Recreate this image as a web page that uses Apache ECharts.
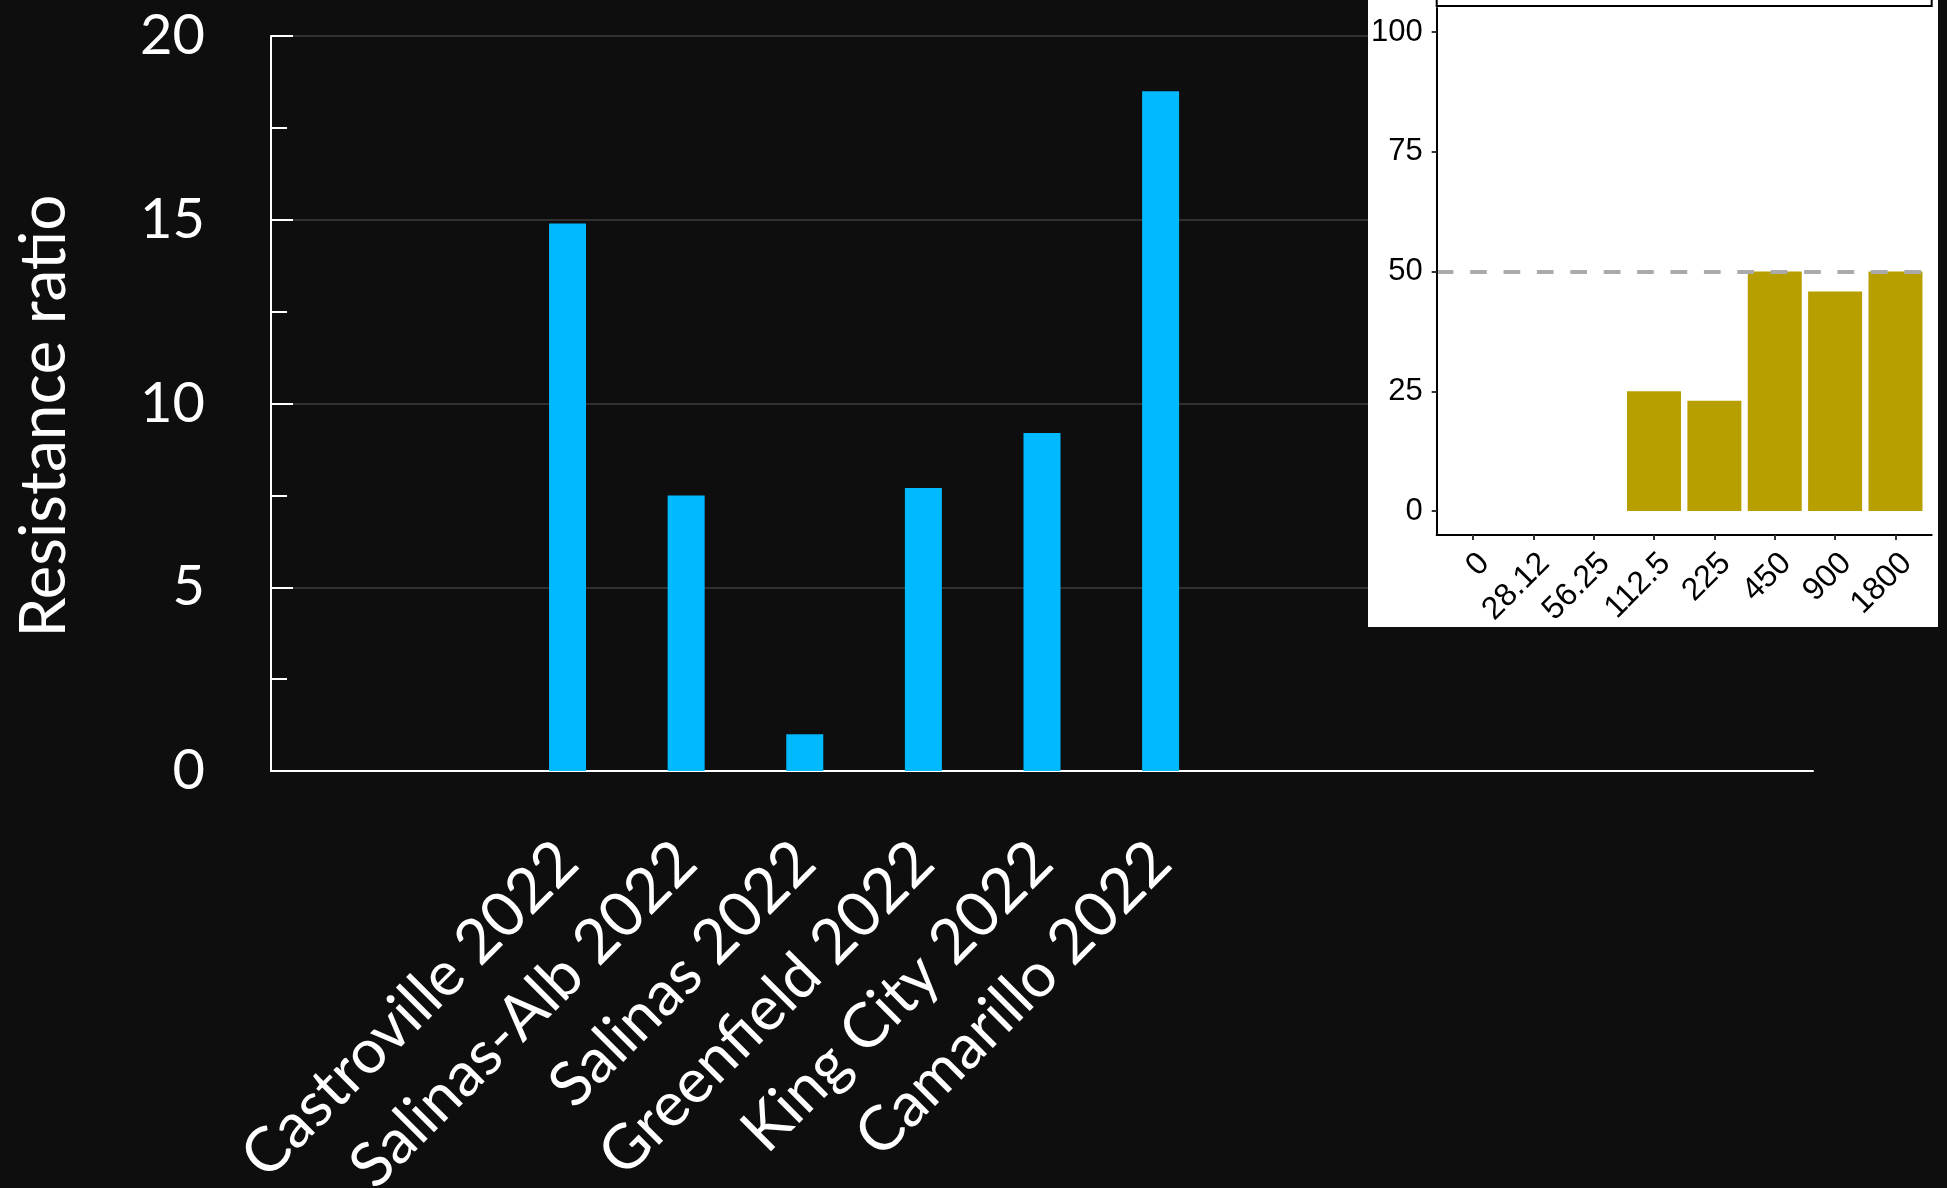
<!DOCTYPE html>
<html><head><meta charset="utf-8">
<script src="https://cdn.jsdelivr.net/npm/echarts@6/dist/echarts.min.js"></script>
<style>html,body{margin:0;padding:0;background:#0e0e0e;}#c{width:1947px;height:1188px;}</style>
</head><body><div id="c"></div>
<script>
// ---- main chart data ----
const sites = ['Castroville 2022', 'Salinas-Alb 2022', 'Salinas 2022', 'Greenfield 2022', 'King City 2022', 'Camarillo 2022'];
const ratios = [14.9, 7.5, 1.0, 7.7, 9.2, 18.5];
const emptyBefore = 2;
const emptyAfter = 5;
const yTicks = [0, 5, 10, 15, 20];
const yName = 'Resistance ratio';

// ---- inset chart data ----
const doses = ['0', '28.12', '56.25', '112.5', '225', '450', '900', '1800'];
const mortality = [0, 0, 0, 25, 23, 50, 45.8, 50];
const insetTicks = [0, 25, 50, 75, 100];
const threshold = 50;

// build padded category axis
const cats = [];
const vals = [];
for (let i = 0; i < emptyBefore; i++) { cats.push('_pre' + i); vals.push(null); }
sites.forEach((s, i) => { cats.push(s); vals.push(ratios[i]); });
for (let i = 0; i < emptyAfter; i++) { cats.push('_post' + i); vals.push(null); }

const doseIdx = doses.map((d, i) => i);
const insetData = mortality.map((m, i) => [i, m]);

const chart = echarts.init(document.getElementById('c'));
const mainFont = 'Lato';
const insetFont = '"Liberation Sans", Arial, sans-serif';

chart.setOption({
  backgroundColor: '#0e0e0e',
  animation: false,
  graphic: [
    { type: 'rect', z: 1, shape: { x: 1368, y: 0, width: 570, height: 627 }, style: { fill: '#ffffff' } },
    { type: 'rect', z: 10, shape: { x: 1436.7, y: -10, width: 495, height: 16 }, style: { fill: 'none', stroke: '#000000', lineWidth: 2 } }
  ],
  grid: [
    { left: 271, top: 36, width: 1542, height: 735, containLabel: false, outerBoundsMode: 'none' },
    { left: 1436.7, top: 8, width: 495, height: 527, containLabel: false, outerBoundsMode: 'none', z: 5 }
  ],
  xAxis: [
    {
      gridIndex: 0, type: 'category', data: cats, boundaryGap: true,
      axisLine: { lineStyle: { color: '#ffffff', width: 2 } },
      axisTick: { show: false },
      splitLine: { show: false },
      axisLabel: {
        interval: 0, rotate: 45, margin: 81, color: '#ffffff',
        fontFamily: mainFont, fontSize: 62,
        formatter: v => (v.charAt(0) === '_' ? '' : v)
      }
    },
    {
      gridIndex: 1, type: 'value', min: -0.6, max: 7.6, z: 6,
      axisLine: { onZero: false, lineStyle: { color: '#000000', width: 2 } },
      axisTick: { show: true, length: 5, customValues: doseIdx, lineStyle: { color: '#333333', width: 2 } },
      splitLine: { show: false },
      axisLabel: {
        customValues: doseIdx, rotate: 45, margin: 12, color: '#000000',
        align: 'right', verticalAlign: 'top',
        fontFamily: insetFont, fontSize: 32,
        formatter: v => doses[Math.round(v)]
      }
    }
  ],
  yAxis: [
    {
      gridIndex: 0, type: 'value', min: 0, max: 20, interval: 5,
      name: yName, nameLocation: 'middle', nameGap: 195, nameRotate: 90,
      nameTextStyle: { color: '#ffffff', fontFamily: mainFont, fontSize: 64, padding: [0, 25, 0, 0] },
      axisLine: { show: true, lineStyle: { color: '#ffffff', width: 2 } },
      axisTick: { show: true, inside: true, length: 22, lineStyle: { color: '#ffffff', width: 2 } },
      minorTick: { show: true, splitNumber: 2, length: 16, lineStyle: { color: '#ffffff', width: 2 } },
      splitLine: { show: true, lineStyle: { color: '#3c3c3c', width: 1.5 } },
      axisLabel: {
        margin: 66, color: '#ffffff', fontFamily: mainFont, fontSize: 56,
        customValues: yTicks
      }
    },
    {
      gridIndex: 1, type: 'value', min: -5, max: 105, z: 6,
      axisLine: { show: true, onZero: false, lineStyle: { color: '#000000', width: 2 } },
      axisTick: { show: true, length: 5, customValues: insetTicks, lineStyle: { color: '#333333', width: 2 } },
      splitLine: { show: false },
      axisLabel: {
        customValues: insetTicks, margin: 14, color: '#000000',
        fontFamily: insetFont, fontSize: 31, padding: [10, 0, 0, 0]
      }
    }
  ],
  series: [
    {
      type: 'bar', xAxisIndex: 0, yAxisIndex: 0, data: vals, barWidth: 37,
      itemStyle: { color: '#00B9FF' }
    },
    {
      type: 'bar', xAxisIndex: 1, yAxisIndex: 1, data: insetData, barWidth: 54, z: 4,
      itemStyle: { color: '#B89F00' },
      markLine: {
        silent: true, symbol: 'none', label: { show: false },
        lineStyle: { color: '#AAAAAA', width: 4, type: [16.7, 16.7] },
        data: [{ yAxis: threshold }]
      }
    }
  ]
});
</script>
</body></html>
